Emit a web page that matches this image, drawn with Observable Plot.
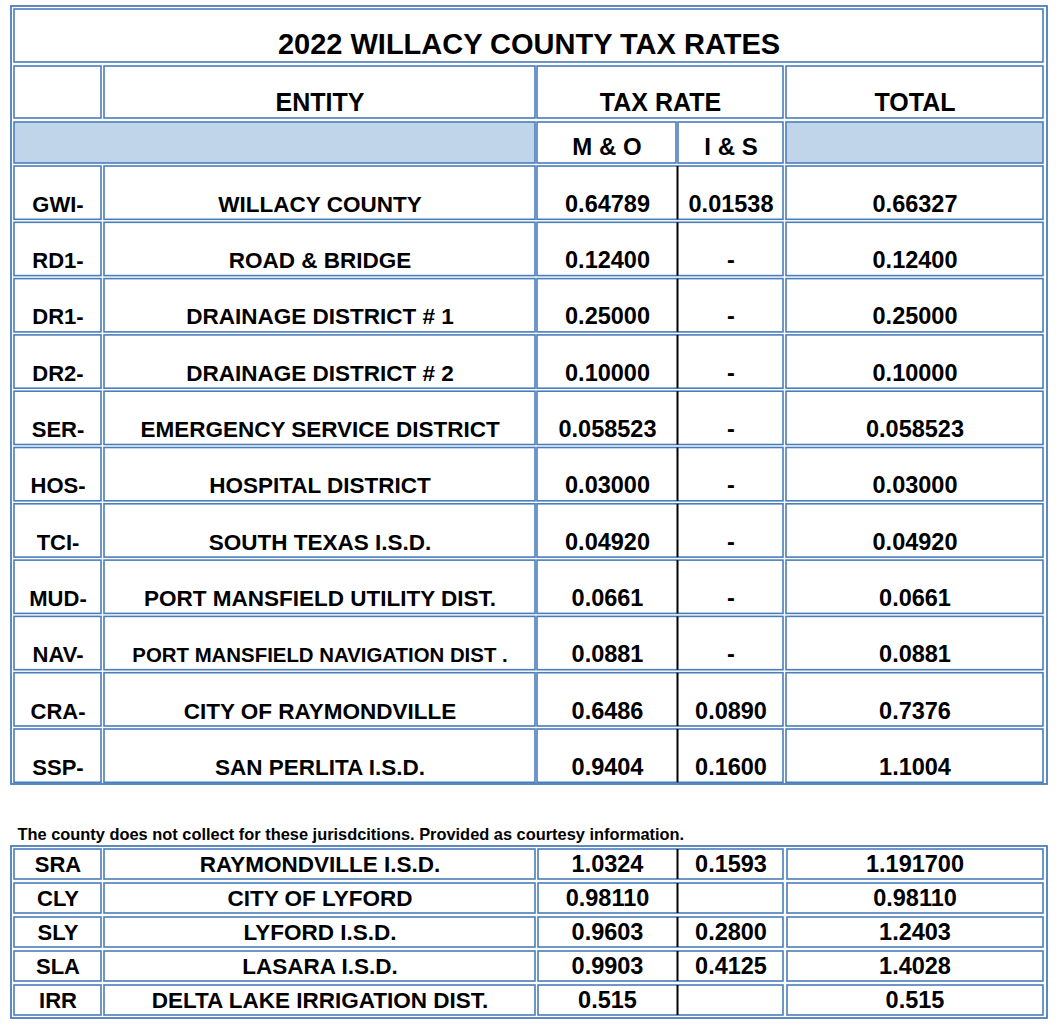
<!DOCTYPE html>
<html><head><meta charset="utf-8">
<script src="https://cdn.jsdelivr.net/npm/d3@7"></script>
<script src="https://cdn.jsdelivr.net/npm/@observablehq/plot@0.6"></script>
<style>html,body{margin:0;padding:0;background:#fff;}</style>
</head><body><div id="chart"></div>
<script>
// ---------- DATA ----------
const title = "2022 WILLACY COUNTY TAX RATES";
const headers = ["ENTITY", "TAX RATE", "TOTAL"];
const subHeaders = ["M & O", "I & S"];
const codes = ["GWI-","RD1-","DR1-","DR2-","SER-","HOS-","TCI-","MUD-","NAV-","CRA-","SSP-"];
const entities = ["WILLACY COUNTY","ROAD & BRIDGE","DRAINAGE DISTRICT # 1","DRAINAGE DISTRICT # 2","EMERGENCY SERVICE DISTRICT","HOSPITAL DISTRICT","SOUTH TEXAS I.S.D.","PORT MANSFIELD UTILITY DIST.","PORT MANSFIELD NAVIGATION DIST .","CITY OF RAYMONDVILLE","SAN PERLITA I.S.D."];
const moRates = ["0.64789","0.12400","0.25000","0.10000","0.058523","0.03000","0.04920","0.0661","0.0881","0.6486","0.9404"];
const isRates = ["0.01538","-","-","-","-","-","-","-","-","0.0890","0.1600"];
const totals = ["0.66327","0.12400","0.25000","0.10000","0.058523","0.03000","0.04920","0.0661","0.0881","0.7376","1.1004"];
const note = "The county does not collect for these jurisdcitions. Provided as courtesy information.";
const codes2 = ["SRA","CLY","SLY","SLA","IRR"];
const entities2 = ["RAYMONDVILLE I.S.D.","CITY OF LYFORD","LYFORD I.S.D.","LASARA I.S.D.","DELTA LAKE IRRIGATION DIST."];
const moRates2 = ["1.0324","0.98110","0.9603","0.9903","0.515"];
const isRates2 = ["0.1593","","0.2800","0.4125",""];
const totals2 = ["1.191700","0.98110","1.2403","1.4028","0.515"];

// ---------- LAYOUT ----------
const W = 1061, H = 1030;
const C = {all:[14,1043], left:[14,535], code:[14,101], entity:[104,535], mo:[537,677], is:[678,783], rates:[537,783], total:[786,1043]};
const outerX = [11,1047];
const T1 = {frame:[6,784], title:[9,62], header:[66,118], sub:[122,163], rowTop:166, pitch:56.3, rowH:53.3};
const T2 = {frame:[846,1018], rowTop:849, pitch:34, rowH:30};
const noteY = 839, noteX = 17;
const BLUE = "#4a7ebb", LIGHT = "#c0d4ea", FONT = "'Liberation Sans', Arial, Helvetica, sans-serif";
const SZ = {title: 29, header: 25, sub: 24, code: 22, entity: 22.5, entitySmall: 20.4, num: 23.5, note: 16.4};
const baseOff = 8;

const cells = [], frames = [], dividers = [], texts = [];
const mid = c => (c[0] + c[1]) / 2;
const cell = (col, y, fill = "white") => cells.push({x1: col[0], x2: col[1], y1: y[0], y2: y[1], fill});
const label = (col, y, text, size, lineAnchor = "bottom") => texts.push({x: mid(col), y, text, size, lineAnchor});

// table 1
frames.push({x1: outerX[0], x2: outerX[1], y1: T1.frame[0], y2: T1.frame[1]});
cell(C.all, T1.title);
label(C.all, T1.title[1] - 9, title, SZ.title);
cell(C.code, T1.header); cell(C.entity, T1.header); cell(C.rates, T1.header); cell(C.total, T1.header);
label(C.entity, T1.header[1] - baseOff, headers[0], SZ.header);
label(C.rates, T1.header[1] - baseOff, headers[1], SZ.header);
label(C.total, T1.header[1] - baseOff, headers[2], SZ.header);
cell(C.left, T1.sub, LIGHT); cell([C.mo[0], C.mo[1]-1], T1.sub); cell(C.is, T1.sub); cell(C.total, T1.sub, LIGHT);
label([C.mo[0], C.mo[1]-1], T1.sub[1] - 9, subHeaders[0], SZ.sub);
label(C.is, T1.sub[1] - 9, subHeaders[1], SZ.sub);
codes.forEach((code, i) => {
  const y = [T1.rowTop + i * T1.pitch, T1.rowTop + i * T1.pitch + T1.rowH];
  cell(C.code, y); cell(C.entity, y); cell(C.rates, y); cell(C.total, y);
  dividers.push({x: C.mo[1], y1: y[0], y2: y[1]});
  const b = y[1] - baseOff;
  label(C.code, b, code, SZ.code);
  label(C.entity, b, entities[i], entities[i].length > 30 ? SZ.entitySmall : SZ.entity);
  label(C.mo, b, moRates[i], SZ.num);
  label(C.is, b, isRates[i], SZ.num);
  label(C.total, b, totals[i], SZ.num);
});

// table 2
frames.push({x1: outerX[0], x2: outerX[1], y1: T2.frame[0], y2: T2.frame[1]});
codes2.forEach((code, i) => {
  const y = [T2.rowTop + i * T2.pitch, T2.rowTop + i * T2.pitch + T2.rowH];
  cell(C.code, y); cell(C.entity, y); cell([C.rates[0]+1, C.rates[1]], y); cell([C.total[0]+1, C.total[1]], y);
  dividers.push({x: C.mo[1], y1: y[0], y2: y[1]});
  const m = mid(y);
  label(C.code, m, code, SZ.code, "middle");
  label(C.entity, m, entities2[i], SZ.entity, "middle");
  label(C.mo, m, moRates2[i], SZ.num, "middle");
  label(C.is, m, isRates2[i], SZ.num, "middle");
  label(C.total, m, totals2[i], SZ.num, "middle");
});

const chart = Plot.plot({
  width: W, height: H, margin: 0,
  x: {domain: [0, W], range: [0, W], axis: null},
  y: {domain: [0, H], range: [0, H], axis: null},
  style: {fontFamily: FONT, background: "white"},
  marks: [
    Plot.rect(frames, {x1: "x1", x2: "x2", y1: "y1", y2: "y2", fill: "white", stroke: BLUE, strokeWidth: 1.8}),
    Plot.rect(cells, {x1: "x1", x2: "x2", y1: "y1", y2: "y2", fill: "fill", stroke: BLUE, strokeWidth: 1.6}),
    Plot.ruleX(dividers, {x: "x", y1: "y1", y2: "y2", stroke: "black", strokeWidth: 2}),
    Plot.text(texts.filter(d => d.lineAnchor === "bottom"), {x: "x", y: "y", text: "text", fontSize: "size", fontWeight: "bold", fill: "black", lineAnchor: "bottom"}),
    Plot.text(texts.filter(d => d.lineAnchor === "middle"), {x: "x", y: "y", text: "text", fontSize: "size", fontWeight: "bold", fill: "black", lineAnchor: "middle"}),
    Plot.text([note], {x: noteX, y: noteY, text: d => d, textAnchor: "start", lineAnchor: "bottom", fontSize: SZ.note, fontWeight: "bold", fill: "black"})
  ]
});
document.getElementById("chart").appendChild(chart);
</script>
</body></html>
